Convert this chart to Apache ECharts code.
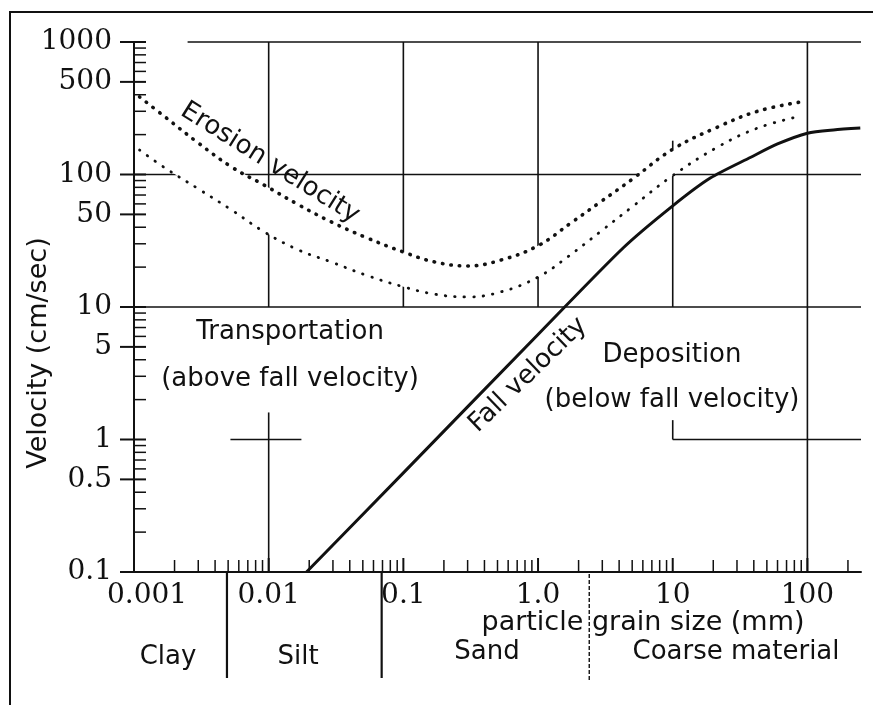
<!DOCTYPE html>
<html>
<head>
<meta charset="utf-8">
<script src="https://cdn.jsdelivr.net/npm/echarts@6/dist/echarts.min.js"></script>
<style>
  html, body { margin: 0; padding: 0; background: #fff; }
  #chart { width: 873px; height: 705px; }
</style>
</head>
<body>
<div id="chart"></div>
<script>
// Grain size (mm) vs. velocity (cm/sec)
const erosionUpper = [
  [0.0011, 385], [0.0017, 272], [0.003, 173], [0.0053, 114], [0.0093, 83],
  [0.0167, 59], [0.029, 44], [0.052, 33.7], [0.1, 26], [0.17, 21.9],
  [0.3, 20.4], [0.53, 22.6], [1.0, 29], [1.75, 43], [2.9, 62],
  [5, 92], [10, 155], [21.5, 228], [42.6, 300], [88, 352]
];
const erosionLower = [
  [0.0011, 153], [0.0017, 112], [0.003, 78], [0.0053, 54], [0.0093, 36.8],
  [0.0167, 26.9], [0.029, 21.9], [0.052, 17.5], [0.1, 14.2], [0.17, 12.5],
  [0.3, 11.9], [0.53, 13], [1.0, 16.8], [1.67, 24], [2.9, 37],
  [5, 57], [9.7, 96], [21.5, 161], [42.6, 224], [84, 272]
];
const fallVelocity = [
  [0.0191, 0.1], [0.1, 0.56], [1, 6.2], [4.3, 28], [10, 58],
  [19, 94], [38, 135], [60, 170], [100, 205], [156, 217], [247, 224]
];

const xTickValues = [0.001, 0.01, 0.1, 1, 10, 100];
const xTickLabels = ['0.001', '0.01', '0.1', '1.0', '10', '100'];
const yTickValues = [1000, 500, 100, 50, 10, 5, 1, 0.5, 0.1];
const yTickLabels = ['1000', '500', '100', '50', '10', '5', '1', '0.5', '0.1'];

// boundaries between the size classes (mm)
const classBounds = [0.0049, 0.069, 2.4];

// reference lines: [velocity, size from, size to]
const gridRows = [
  [1000, 0.0025, 250],
  [100, 0.001, 250],
  [10, 0.001, 250],
  [1, 0.0052, 0.0175],
  [1, 10, 250]
];
// reference lines: [size, velocity from, velocity to]
const gridCols = [
  [0.01, 0.1, 1.6],
  [0.01, 10, 1000],
  [0.1, 10, 1000],
  [1, 10, 1000],
  [10, 1, 1.4],
  [10, 10, 180],
  [100, 0.1, 1000]
];

const X_MIN = 0.001, X_MAX = 250, Y_MIN = 0.1, Y_MAX = 1000;
const INK = '#111';
const SANS = '"DejaVu Sans", sans-serif';
const SERIF = '28px "DejaVu Serif", serif';

function minorValues(lo, hi, skip) {
  const out = [];
  for (let e = Math.floor(Math.log10(lo)); Math.pow(10, e) <= hi; e++) {
    for (let m = 2; m <= 9; m++) {
      const v = m * Math.pow(10, e);
      if (v > lo * 1.0001 && v < hi * 0.9999 && !skip.some(s => Math.abs(s - v) / v < 1e-6)) out.push(v);
    }
  }
  return out;
}
const yMinor = minorValues(Y_MIN, Y_MAX, yTickValues);
const xMinor = minorValues(X_MIN, X_MAX, xTickValues);

function seg(list, x1, y1, x2, y2, w, dash) {
  list.push({
    type: 'line',
    shape: { x1: x1, y1: y1, x2: x2, y2: y2 },
    style: { stroke: INK, lineWidth: w || 1.5, lineDash: dash || null }
  });
}

function label(list, x, y, text, font, align) {
  list.push({
    type: 'text', x: x, y: y,
    style: {
      text: text, font: font, fill: INK,
      textAlign: align, align: align,
      textVerticalAlign: 'middle', verticalAlign: 'middle'
    }
  });
}

function drawGrid(params, api) {
  const c = [];
  gridRows.forEach(function (r) {
    const p = api.coord([r[1], r[0]]), q = api.coord([r[2], r[0]]);
    seg(c, p[0], p[1], q[0], q[1], 1.6);
  });
  gridCols.forEach(function (r) {
    const p = api.coord([r[0], r[1]]), q = api.coord([r[0], r[2]]);
    seg(c, p[0], p[1], q[0], q[1], 1.6);
  });
  return { type: 'group', children: c };
}

// opaque band between the two erosion limits
function drawBand(params, api) {
  const pts = erosionUpper.map(d => api.coord(d))
    .concat(erosionLower.slice().reverse().map(d => api.coord(d)));
  return { type: 'polygon', shape: { points: pts }, style: { fill: '#fff', stroke: null } };
}

function drawAxisMarks(params, api) {
  const c = [];
  yMinor.forEach(function (v) {
    const p = api.coord([X_MIN, v]);
    seg(c, p[0], p[1], p[0] + 12, p[1], 1.5);
  });
  yTickValues.forEach(function (v, i) {
    const p = api.coord([X_MIN, v]);
    seg(c, p[0] - 14, p[1], p[0] + 12, p[1], 2);
    label(c, p[0] - 22, p[1], yTickLabels[i], SERIF, 'right');
  });
  xMinor.forEach(function (v) {
    const p = api.coord([v, Y_MIN]);
    seg(c, p[0], p[1], p[0], p[1] - 12, 1.5);
  });
  xTickValues.forEach(function (v, i) {
    const p = api.coord([v, Y_MIN]);
    if (i > 0) seg(c, p[0], p[1], p[0], p[1] - 14, 2);
    if (i === 0) label(c, p[0] - 27, p[1] + 24, xTickLabels[i], SERIF, 'left');
    else label(c, p[0], p[1] + 24, xTickLabels[i], SERIF, 'center');
  });
  classBounds.forEach(function (b, i) {
    const p = api.coord([b, Y_MIN]);
    if (i < 2) seg(c, p[0], p[1], p[0], p[1] + 106, 2.2);
    else seg(c, p[0], p[1] + 2, p[0], p[1] + 108, 1.4, [4, 2]);
  });
  return { type: 'group', children: c };
}

function textStyle(text, size, extra) {
  return Object.assign({
    text: text, font: size + 'px ' + SANS, fill: INK,
    textAlign: 'center', align: 'center',
    textVerticalAlign: 'middle', verticalAlign: 'middle'
  }, extra || {});
}

const chart = echarts.init(document.getElementById('chart'), null, { renderer: 'canvas' });

chart.setOption({
  animation: false,
  backgroundColor: '#fff',
  grid: { left: 134, top: 42, width: 727, height: 530 },
  xAxis: {
    type: 'log', logBase: 10, min: X_MIN, max: X_MAX,
    axisLine: { show: true, onZero: false, lineStyle: { color: INK, width: 2 } },
    axisTick: { show: false }, axisLabel: { show: false },
    splitLine: { show: false }, minorTick: { show: false }
  },
  yAxis: {
    type: 'log', logBase: 10, min: Y_MIN, max: Y_MAX,
    axisLine: { show: true, onZero: false, lineStyle: { color: INK, width: 2 } },
    axisTick: { show: false }, axisLabel: { show: false },
    splitLine: { show: false }, minorTick: { show: false }
  },
  series: [
    { type: 'custom', name: 'grid', renderItem: drawGrid, data: [[X_MIN, Y_MIN]], z: 1, silent: true },
    { type: 'custom', name: 'band', renderItem: drawBand, data: [[X_MIN, Y_MIN]], z: 2, silent: true },
    {
      type: 'line', name: 'Erosion velocity (upper)', data: erosionUpper,
      smooth: 0.4, showSymbol: false, z: 5, silent: true,
      lineStyle: { color: INK, width: 3.6, type: [0.5, 8], cap: 'round' }
    },
    {
      type: 'line', name: 'Erosion velocity (lower)', data: erosionLower,
      smooth: 0.4, showSymbol: false, z: 5, silent: true,
      lineStyle: { color: INK, width: 2.8, type: [0.5, 9], cap: 'round' }
    },
    {
      type: 'line', name: 'Fall velocity', data: fallVelocity,
      smooth: 0.25, showSymbol: false, z: 5, silent: true,
      lineStyle: { color: INK, width: 3 }
    },
    { type: 'custom', name: 'axes', renderItem: drawAxisMarks, data: [[X_MIN, Y_MIN]], z: 6, clip: false, silent: true }
  ],
  graphic: [
    {
      type: 'rect', z: 0, silent: true,
      shape: { x: 10, y: 12, width: 900, height: 800 },
      style: { fill: null, stroke: INK, lineWidth: 2 }
    },
    { type: 'text', x: 39, y: 353, rotation: Math.PI / 2, z: 10, style: textStyle('Velocity (cm/sec)', 27) },
    { type: 'text', x: 270, y: 163, rotation: -32 * Math.PI / 180, z: 10, style: textStyle('Erosion velocity', 26) },
    { type: 'text', x: 528, y: 375, rotation: 44 * Math.PI / 180, z: 10, style: textStyle('Fall velocity', 26) },
    { type: 'text', x: 290, y: 356, z: 10, style: textStyle('Transportation\n(above fall velocity)', 26, { lineHeight: 47 }) },
    { type: 'text', x: 672, y: 378, z: 10, style: textStyle('Deposition\n(below fall velocity)', 26, { lineHeight: 45 }) },
    { type: 'text', x: 643, y: 623, z: 10, style: textStyle('particle grain size (mm)', 27) },
    { type: 'text', x: 168, y: 657, z: 10, style: textStyle('Clay', 26) },
    { type: 'text', x: 298, y: 657, z: 10, style: textStyle('Silt', 26) },
    { type: 'text', x: 487, y: 652, z: 10, style: textStyle('Sand', 26) },
    { type: 'text', x: 736, y: 652, z: 10, style: textStyle('Coarse material', 26) }
  ]
});
</script>
</body>
</html>
